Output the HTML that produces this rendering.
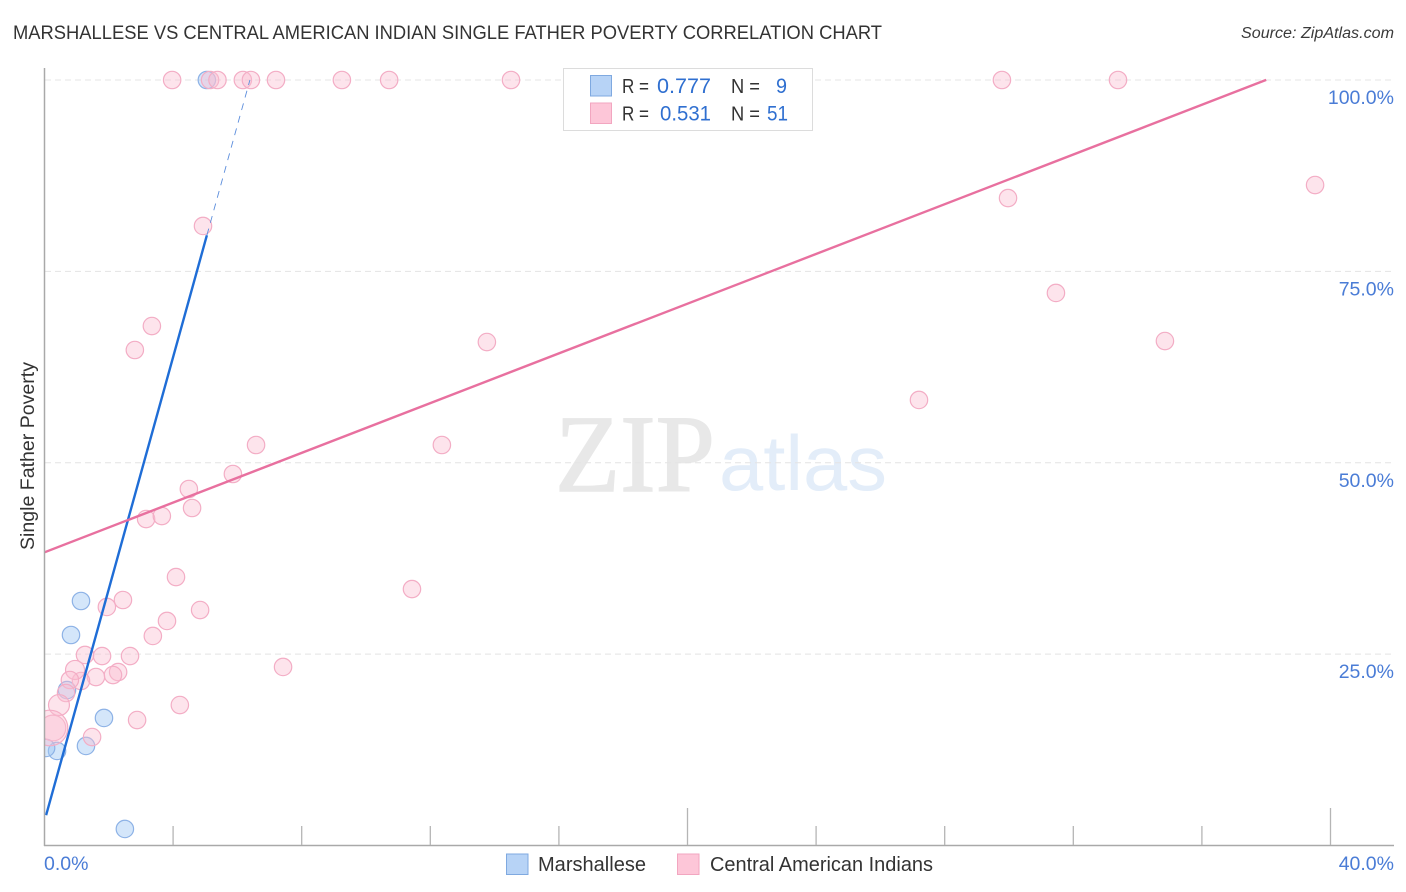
<!DOCTYPE html>
<html lang="en">
<head>
<meta charset="utf-8">
<title>Marshallese vs Central American Indian Single Father Poverty Correlation Chart</title>
<style>
html,body{margin:0;padding:0;background:#fff;}
svg{display:block;font-family:"Liberation Sans",sans-serif;}
</style>
</head>
<body>
<svg id="chart" width="1406" height="892" viewBox="0 0 1406 892" xmlns="http://www.w3.org/2000/svg">
  <defs>
    <clipPath id="plot-clip"><rect x="45" y="60" width="1349" height="785"/></clipPath>
  </defs>
  <rect x="0" y="0" width="1406" height="892" fill="#ffffff"/>
  <text x="13" y="39" font-size="19" fill="#333333" textLength="869" lengthAdjust="spacingAndGlyphs">MARSHALLESE VS CENTRAL AMERICAN INDIAN SINGLE FATHER POVERTY CORRELATION CHART</text>
  <text x="1241" y="38" font-size="15.5" font-style="italic" fill="#3a3a3a" textLength="153" lengthAdjust="spacingAndGlyphs">Source: ZipAtlas.com</text>
  <g>
    <text x="555" y="491" font-family="'Liberation Serif',serif" font-size="110" fill="#e8e8e8" stroke="#e8e8e8" stroke-width="1.4" textLength="160" lengthAdjust="spacingAndGlyphs">ZIP</text>
    <text x="719" y="490" font-size="78" fill="#e3edf9" textLength="168" lengthAdjust="spacingAndGlyphs">atlas</text>
  </g>
  <g id="grid"></g>
  <g id="marks-blue" clip-path="url(#plot-clip)"></g>
  <g id="marks-pink" clip-path="url(#plot-clip)"></g>
  <g id="trends" clip-path="url(#plot-clip)"></g>
  <g id="axes"></g>
  <text transform="translate(34 550) rotate(-90)" font-size="19" fill="#333333" textLength="188" lengthAdjust="spacingAndGlyphs">Single Father Poverty</text>

  <g>
    <rect x="563.5" y="68.5" width="249" height="62" fill="#ffffff" stroke="#dcdcdc" stroke-width="1"/>
    <rect x="590.5" y="75.5" width="21" height="20.5" fill="#b7d3f6" stroke="#7fa9e0" stroke-width="1"/>
    <rect x="590.5" y="103" width="21" height="20.5" fill="#fdc6d8" stroke="#f2a6c0" stroke-width="1"/>
    <text x="622" y="93" font-size="20" fill="#333333" textLength="27" lengthAdjust="spacingAndGlyphs">R =</text>
    <text x="657" y="93" font-size="21" fill="#2f6fd0" textLength="54" lengthAdjust="spacingAndGlyphs">0.777</text>
    <text x="731" y="93" font-size="20" fill="#333333" textLength="29" lengthAdjust="spacingAndGlyphs">N =</text>
    <text x="776" y="93" font-size="21" fill="#2f6fd0" textLength="11" lengthAdjust="spacingAndGlyphs">9</text>
    <text x="622" y="120.5" font-size="20" fill="#333333" textLength="27" lengthAdjust="spacingAndGlyphs">R =</text>
    <text x="660" y="120.5" font-size="21" fill="#2f6fd0" textLength="51" lengthAdjust="spacingAndGlyphs">0.531</text>
    <text x="731" y="120.5" font-size="20" fill="#333333" textLength="29" lengthAdjust="spacingAndGlyphs">N =</text>
    <text x="767" y="120.5" font-size="21" fill="#2f6fd0" textLength="21" lengthAdjust="spacingAndGlyphs">51</text>
  </g>

  <g>
    <g>
      <rect x="506.5" y="854" width="21.5" height="20.5" fill="#b7d3f6" stroke="#7fa9e0" stroke-width="1"/>
      <text x="538" y="871" font-size="20" fill="#333333" textLength="108" lengthAdjust="spacingAndGlyphs">Marshallese</text>
    </g>
    <g>
      <rect x="677.5" y="854" width="21.5" height="20.5" fill="#fdc6d8" stroke="#f2a6c0" stroke-width="1"/>
      <text x="710" y="871" font-size="20" fill="#333333" textLength="223" lengthAdjust="spacingAndGlyphs">Central American Indians</text>
    </g>
  </g>
</svg>
<script>
const blueX = [5.05, 1.135, 0.824, 0.70, 1.85, 1.29, 0.39, 0.05, 2.50];
const blueY = [100, 31.94, 27.5, 20.3, 16.66, 13.0, 12.35, 12.74, 2.16];

const pinkX = [3.97, 5.15, 5.38, 6.17, 6.42, 7.20, 9.25, 10.72, 14.51, 29.78, 33.39,
  4.93, 29.97, 39.52, 31.46, 34.85, 27.2, 3.34, 2.81, 13.76, 12.36, 6.58, 5.86, 4.49, 4.59,
  3.16, 3.65, 4.09, 11.43, 2.44, 1.94, 4.84, 3.81, 3.37, 7.42, 2.66, 1.79, 1.26, 2.29, 2.13,
  1.60, 1.135, 0.95, 0.79, 0.67, 0.45, 2.88, 4.21, 1.48, 0.26, 0.17];
const pinkY = [100, 100, 100, 100, 100, 100, 100, 100, 100, 100, 100,
  80.93, 84.58, 86.28, 72.18, 65.9, 58.2, 67.86, 64.73, 65.77, 52.32, 52.32, 48.53, 46.57, 44.09,
  42.65, 43.04, 35.07, 33.5, 32.07, 31.16, 30.76, 29.33, 27.37, 23.32, 24.75, 24.75, 24.89, 22.66, 22.27,
  22.01, 21.49, 22.93, 21.62, 19.92, 18.35, 16.39, 18.35, 14.17, 15.35, 15.35];
const pinkWeight = [1, 1, 1, 1, 1, 1, 1, 1, 1, 1, 1,
  1, 1, 1, 1, 1, 1, 1, 1, 1, 1, 1, 1, 1, 1,
  1, 1, 1, 1, 1, 1, 1, 1, 1, 1, 1, 1, 1, 1, 1,
  1, 1, 1.2, 1, 1, 1.45, 1, 1, 1, 2.2, 4.2];

const blueTrend = [3.2, 15.15];
const blueSolidEnd = [0.05, 5.05];
const pinkTrend = [38.3, 1.624];
const pinkRange = [0, 38];

const yTicks = [25, 50, 75, 100];
const yTickLabels = ['25.0%', '50.0%', '75.0%', '100.0%'];
const xTicks = [0, 4, 8, 12, 16, 20, 24, 28, 32, 36, 40];
const xMajorTicks = [20, 40];
const xLabelValues = [0, 40];
const xTickLabels = ['0.0%', '40.0%'];

const NS = 'http://www.w3.org/2000/svg';
function xScale(v) { return 44.5 + v * 32.15; }
function yScale(v) { return 845.5 - v * 7.655; }
function rScale(w) { return 8.7 * Math.sqrt(w); }
function make(tag, attrs, parent) {
  const el = document.createElementNS(NS, tag);
  for (const k in attrs) el.setAttribute(k, attrs[k]);
  parent.appendChild(el);
  return el;
}

const grid = document.getElementById('grid');
const axes = document.getElementById('axes');
const blueGroup = document.getElementById('marks-blue');
const pinkGroup = document.getElementById('marks-pink');
const trends = document.getElementById('trends');

yTicks.forEach(function (t, i) {
  const line = make('line', { x1: 45, x2: 1394, y1: yScale(t), y2: yScale(t), stroke: '#e4e4e4', 'stroke-width': 1, 'stroke-dasharray': '6 4' }, grid);
  
  
  const label = make('text', { x: 1394, y: yScale(t) + 24, 'text-anchor': 'end', 'font-size': 19.5, fill: '#4a7cd6' }, axes);
  
  
  label.textContent = yTickLabels[i];
});

const yAxis = make('line', { x1: 44.5, x2: 44.5, y1: 68, y2: 846, stroke: '#a9a9a9', 'stroke-width': 1.5 }, axes);


const xAxis = make('line', { x1: 44, x2: 1394, y1: 845.5, y2: 845.5, stroke: '#a9a9a9', 'stroke-width': 1.5 }, axes);



xTicks.forEach(function (t) {
  if (t === 0) return;
  const top = xMajorTicks.indexOf(t) >= 0 ? 808 : 826;
  const tick = make('line', { x1: xScale(t), x2: xScale(t), y1: top, y2: 845, stroke: '#b5b5b5', 'stroke-width': 1.3 }, axes);
  
  
});

xLabelValues.forEach(function (t, i) {
  const first = i === 0;
  const label = make('text', { x: first ? 44 : 1394, y: 870, 'text-anchor': first ? 'start' : 'end', 'font-size': 19.5, fill: '#4a7cd6' }, axes);
  
  
  label.textContent = xTickLabels[i];
});

blueX.forEach(function (x, i) {
  const c = make('circle', { cx: xScale(x), cy: yScale(blueY[i]), r: rScale(1), fill: 'rgba(160,200,245,0.45)', stroke: '#8db2e6', 'stroke-width': 1.2 }, blueGroup);
  
  
});

pinkX.forEach(function (x, i) {
  const c = make('circle', { cx: xScale(x), cy: yScale(pinkY[i]), r: rScale(pinkWeight[i]), fill: 'rgba(250,190,210,0.42)', stroke: '#f3adc5', 'stroke-width': 1.2 }, pinkGroup);
  
  
});

function trendY(trend, x) { return trend[0] + trend[1] * x; }

const blueSolid = make('line', { x1: xScale(blueSolidEnd[0]), y1: yScale(trendY(blueTrend, blueSolidEnd[0])), x2: xScale(blueSolidEnd[1]), y2: yScale(trendY(blueTrend, blueSolidEnd[1])), stroke: '#1f6dd6', 'stroke-width': 2.4 }, trends);



const blueEndX = (100 - blueTrend[0]) / blueTrend[1];
const blueDash = make('line', { x1: xScale(blueSolidEnd[1]), y1: yScale(trendY(blueTrend, blueSolidEnd[1])), x2: xScale(blueEndX), y2: yScale(100), stroke: '#5b8ddc', 'stroke-width': 0.9, 'stroke-dasharray': '7 6' }, trends);



const pinkLine = make('line', { x1: xScale(pinkRange[0]), y1: yScale(trendY(pinkTrend, pinkRange[0])), x2: xScale(pinkRange[1]), y2: yScale(trendY(pinkTrend, pinkRange[1])), stroke: '#e8709f', 'stroke-width': 2.4 }, trends);


</script>
</body>
</html>
